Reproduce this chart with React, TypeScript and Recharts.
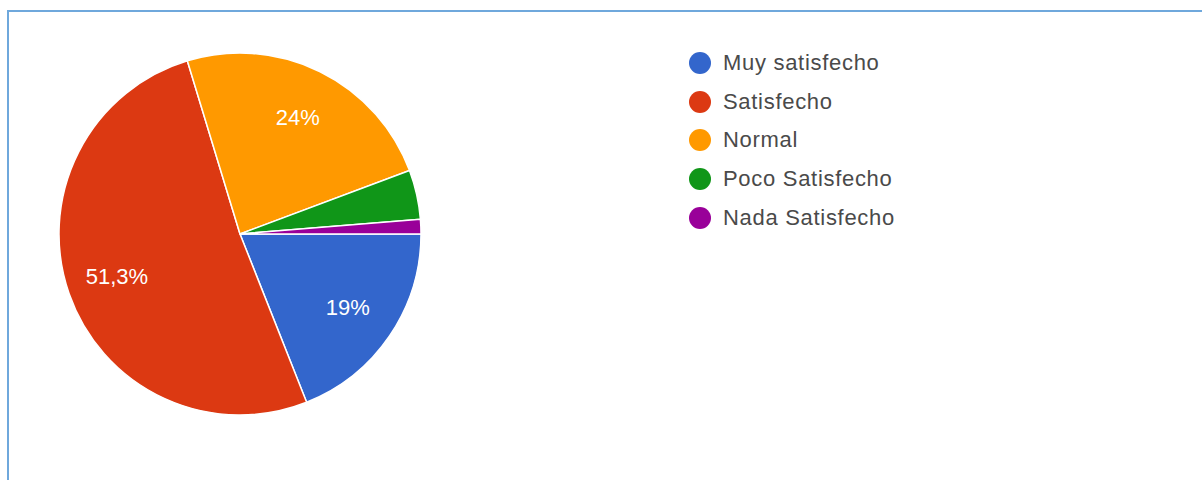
import { PieChart, Pie, Cell, Legend } from 'recharts';

const categories = ['Muy satisfecho', 'Satisfecho', 'Normal', 'Poco Satisfecho', 'Nada Satisfecho'];
const percentages = [19, 51.3, 24, 4.4, 1.3];
const sliceColors = ['#3366cc', '#dc3912', '#ff9900', '#109618', '#990099'];

const data = categories.map((name, i) => ({ name, value: percentages[i] }));

const RADIAN = Math.PI / 180;
const FONT = "'Liberation Sans', Arial, sans-serif";

const renderLabel = ({ cx, cy, midAngle, outerRadius, value }: any) => {
  // small slices get no label, like the google forms chart
  if (value < 5) return null;
  const r = outerRadius * 0.72;
  const x = cx + r * Math.cos(-midAngle * RADIAN);
  const y = cy + r * Math.sin(-midAngle * RADIAN);
  return (
    <text
      x={x}
      y={y}
      fill="#ffffff"
      textAnchor="middle"
      dominantBaseline="central"
      fontSize={22}
      fontFamily={FONT}
    >
      {`${String(value).replace('.', ',')}%`}
    </text>
  );
};

// keep the legend in data order (recharts sorts payload by name)
const renderLegend = () => (
  <div style={{ fontFamily: FONT }}>
    {categories.map((name, i) => (
      <div key={name} style={{ display: 'flex', alignItems: 'center', height: 38.6 }}>
        <span
          style={{
            width: 22,
            height: 22,
            borderRadius: '50%',
            background: sliceColors[i],
            display: 'inline-block',
            marginRight: 12,
          }}
        />
        <span style={{ fontSize: 22, letterSpacing: 0.7, color: '#4a4a4a' }}>{name}</span>
      </div>
    ))}
  </div>
);

export default function App() {
  return (
    <div style={{ position: 'absolute', left: 0, top: 0, width: 1202, height: 480, background: '#ffffff', overflow: 'hidden' }}>
      <div
        style={{
          position: 'absolute',
          left: 7,
          top: 10,
          width: 1200,
          height: 480,
          borderLeft: '2px solid #6fa8dc',
          borderTop: '2px solid #6fa8dc',
        }}
      />
      <div style={{ position: 'absolute', left: 0, top: 0 }}>
        <PieChart width={1202} height={480} margin={{ top: 0, right: 0, bottom: 0, left: 0 }}>
          <Pie
            data={data}
            dataKey="value"
            nameKey="name"
            cx={240}
            cy={234}
            outerRadius={181}
            startAngle={0}
            endAngle={-360}
            stroke="#ffffff"
            strokeWidth={1.5}
            labelLine={false}
            label={renderLabel}
            isAnimationActive={false}
          >
            {data.map((entry, index) => (
              <Cell key={`cell-${index}`} fill={sliceColors[index]} />
            ))}
          </Pie>
          <Legend
            layout="vertical"
            content={renderLegend}
            wrapperStyle={{ position: 'absolute', left: 689, top: 44, width: 320 }}
          />
        </PieChart>
      </div>
    </div>
  );
}
